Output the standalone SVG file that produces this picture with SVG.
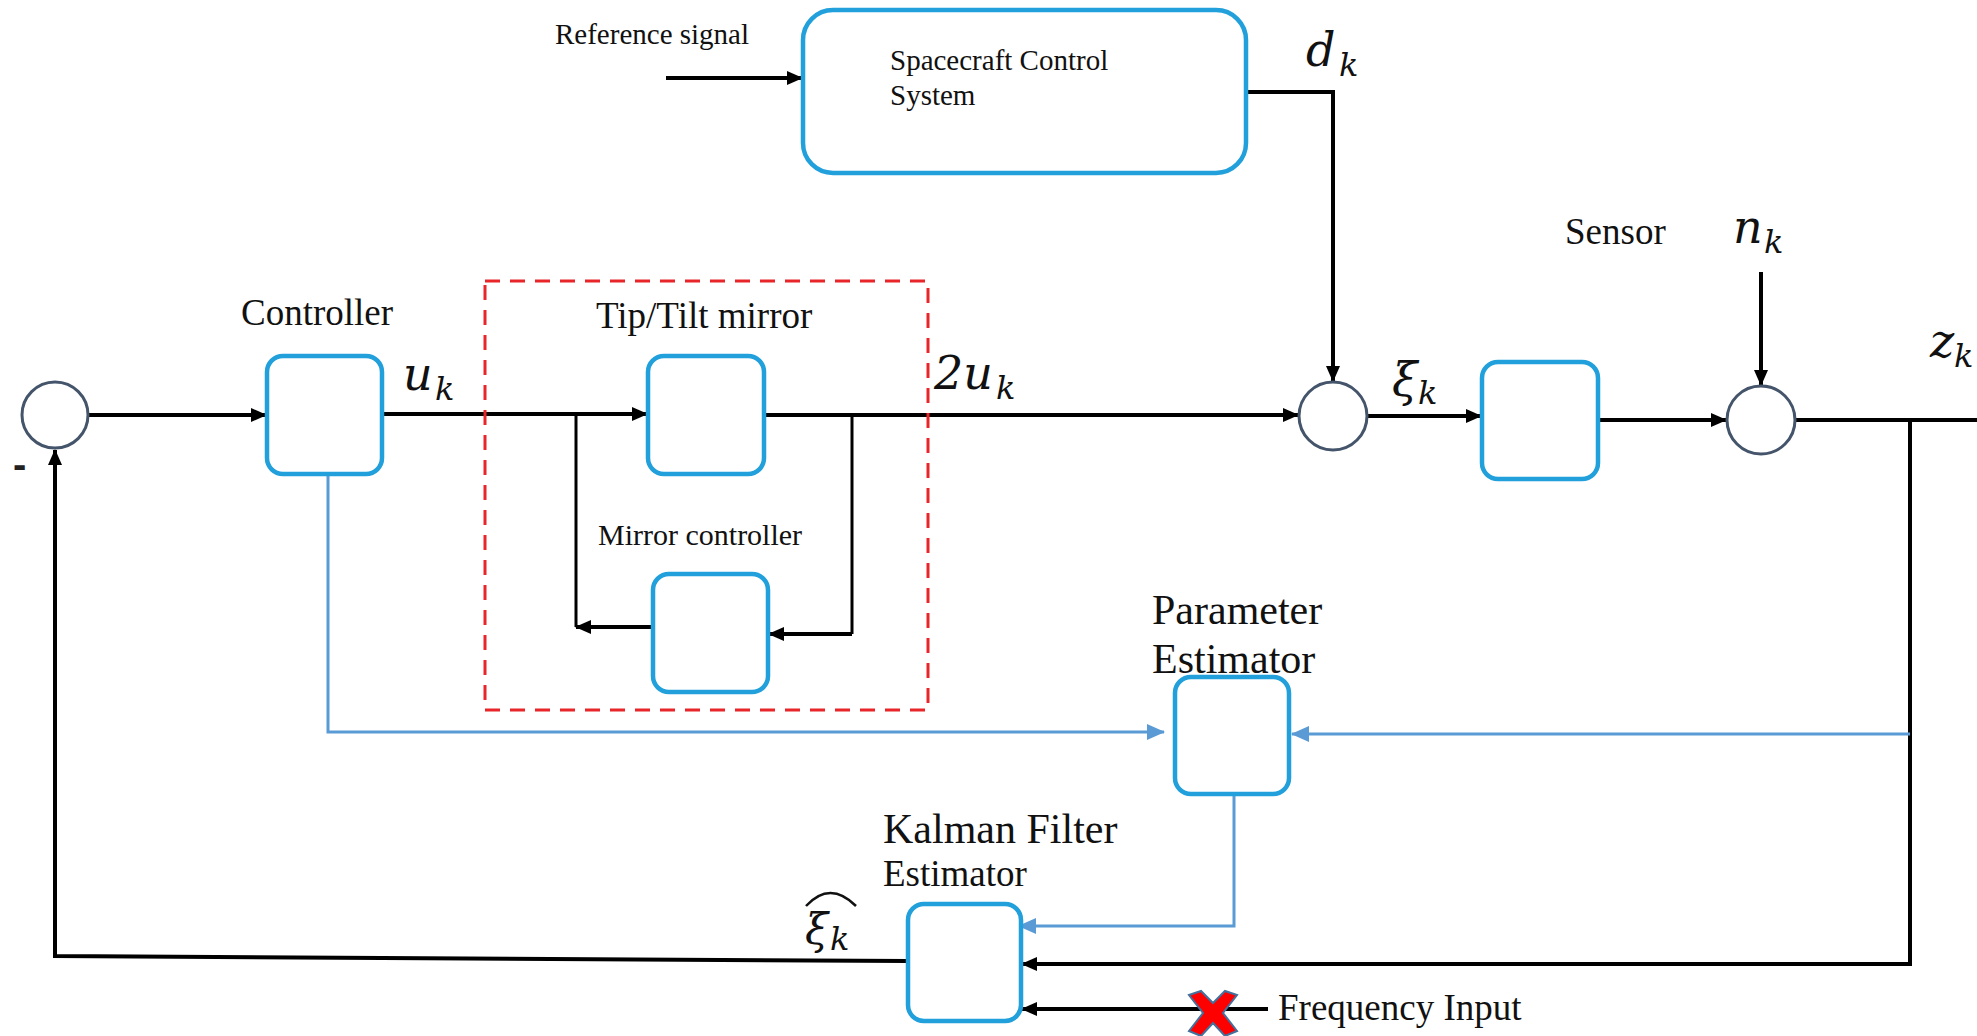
<svg xmlns="http://www.w3.org/2000/svg" width="1977" height="1036" viewBox="0 0 1977 1036">
<style>
.box{fill:#fff;stroke:#22a0db;stroke-width:4.5}
.sum{fill:#fff;stroke:#44546a;stroke-width:3}
.blk{fill:none;stroke:#000;stroke-width:4}
.thin{fill:none;stroke:#000;stroke-width:3}
.blu{fill:none;stroke:#5b9bd5;stroke-width:3}
.t{font-family:"Liberation Serif","Times New Roman",serif;fill:#111}
.m{font-family:"DejaVu Serif",serif;font-style:italic;fill:#111}
</style>
<defs>
<marker id="ab" markerUnits="userSpaceOnUse" markerWidth="16" markerHeight="14" refX="15" refY="7" orient="auto"><path d="M0,0 L16,7 L0,14 Z" fill="#000"/></marker>
<marker id="abl" markerUnits="userSpaceOnUse" markerWidth="18" markerHeight="16" refX="17" refY="8" orient="auto"><path d="M0,0 L18,8 L0,16 Z" fill="#5b9bd5"/></marker>
</defs>

<g id="connectors">
<path class="blk" d="M666 78 H802" marker-end="url(#ab)"/>
<path class="blk" d="M1246 92 H1333 V381" marker-end="url(#ab)"/>
<path class="blk" d="M88 415 H266" marker-end="url(#ab)"/>
<path class="blk" d="M382 414 H647" marker-end="url(#ab)"/>
<path class="blk" d="M764 415 H1298" marker-end="url(#ab)"/>
<path class="thin" d="M576 414 V627"/>
<path class="blk" d="M653 627 H576" marker-end="url(#ab)"/>
<path class="thin" d="M852 415 V634"/>
<path class="blk" d="M852 634 H769" marker-end="url(#ab)"/>
<path class="blk" d="M1367 416 H1481" marker-end="url(#ab)"/>
<path class="blk" d="M1598 420 H1726" marker-end="url(#ab)"/>
<path class="blk" d="M1761 272 V385" marker-end="url(#ab)"/>
<path class="blk" d="M1795 420 H1977"/>
<path class="blk" d="M1910 420 V964 H1022" marker-end="url(#ab)"/>
<path class="blu" d="M1910 734 H1292" marker-end="url(#abl)"/>
<path class="blu" d="M328 474 V732 H1164" marker-end="url(#abl)"/>
<path class="blu" d="M1234 794 V926 H1019" marker-end="url(#abl)"/>
<path class="blk" d="M908 961 L55 956 V450" marker-end="url(#ab)"/>
<path class="blk" d="M1268 1009 H1022" marker-end="url(#ab)"/>
</g>

<g id="tiptilt-group">
<rect x="485" y="281" width="443" height="429" fill="none" stroke="#e8262a" stroke-width="3" stroke-dasharray="15 10"/>
</g>

<g id="sum1"><circle class="sum" cx="55" cy="415" r="33"/>
<text x="13" y="478" style="font-family:'Liberation Sans',Arial,sans-serif;font-weight:bold;font-size:40px;fill:#222">-</text></g>
<g id="sum2"><circle class="sum" cx="1333" cy="416" r="34"/></g>
<g id="sum3"><circle class="sum" cx="1761" cy="420" r="34"/></g>

<g id="reference"><text class="t" x="555" y="44" font-size="29">Reference signal</text></g>

<g id="spacecraft">
<rect class="box" x="803" y="10" width="443" height="163" rx="30"/>
<text class="t" x="890" y="70" font-size="29">Spacecraft Control</text>
<text class="t" x="890" y="105" font-size="29">System</text>
</g>

<g id="controller">
<rect class="box" x="267" y="356" width="115" height="118" rx="16"/>
<text class="t" x="241" y="325" font-size="37">Controller</text>
</g>

<g id="tiptilt">
<rect class="box" x="648" y="356" width="116" height="118" rx="16"/>
<text class="t" x="596" y="328" font-size="37">Tip/Tilt mirror</text>
</g>

<g id="mirror-controller">
<rect class="box" x="653" y="574" width="115" height="118" rx="16"/>
<text class="t" x="598" y="545" font-size="30">Mirror controller</text>
</g>

<g id="sensor">
<rect class="box" x="1482" y="362" width="116" height="117" rx="16"/>
<text class="t" x="1565" y="244" font-size="37">Sensor</text>
</g>

<g id="parameter-estimator">
<rect class="box" x="1175" y="677" width="114" height="117" rx="16"/>
<text class="t" x="1152" y="624" font-size="42" fill="#000">Parameter</text>
<text class="t" x="1152" y="673" font-size="42" fill="#000">Estimator</text>
</g>

<g id="kalman">
<rect class="box" x="908" y="904" width="113" height="117" rx="16"/>
<text class="t" x="883" y="843" font-size="42" fill="#000">Kalman Filter</text>
<text class="t" x="883" y="886" font-size="37">Estimator</text>
</g>

<g id="frequency">
<path d="M1189 995 L1201 991 L1213 1003 L1225 991 L1237 995 L1223 1013 L1237 1031 L1225 1036 L1213 1023 L1201 1036 L1189 1031 L1203 1013 Z" fill="#ff0000" stroke="#41719c" stroke-width="2"/>
<text class="t" x="1278" y="1020" font-size="37">Frequency Input</text>
</g>

<g id="labels">
<text class="m" x="403" y="390" font-size="46">u</text><text class="m" x="435" y="400" font-size="32">k</text>
<text class="m" x="934" y="389" font-size="46">2u</text><text class="m" x="996" y="399" font-size="32">k</text>
<text class="m" x="1306" y="66" font-size="46">d</text><text class="m" x="1339" y="76" font-size="32">k</text>
<text class="m" x="1392" y="396" font-size="46">ξ</text><text class="m" x="1418" y="404" font-size="32">k</text>
<text class="m" x="1733" y="243" font-size="46">n</text><text class="m" x="1764" y="253" font-size="32">k</text>
<text class="m" x="1930" y="357" font-size="46">z</text><text class="m" x="1954" y="367" font-size="32">k</text>
<text class="m" x="805" y="944" font-size="42">ξ</text><text class="m" x="830" y="950" font-size="32">k</text>
<path d="M806 906 Q830 880 856 906" fill="none" stroke="#111" stroke-width="2.5"/>
</g>
</svg>
